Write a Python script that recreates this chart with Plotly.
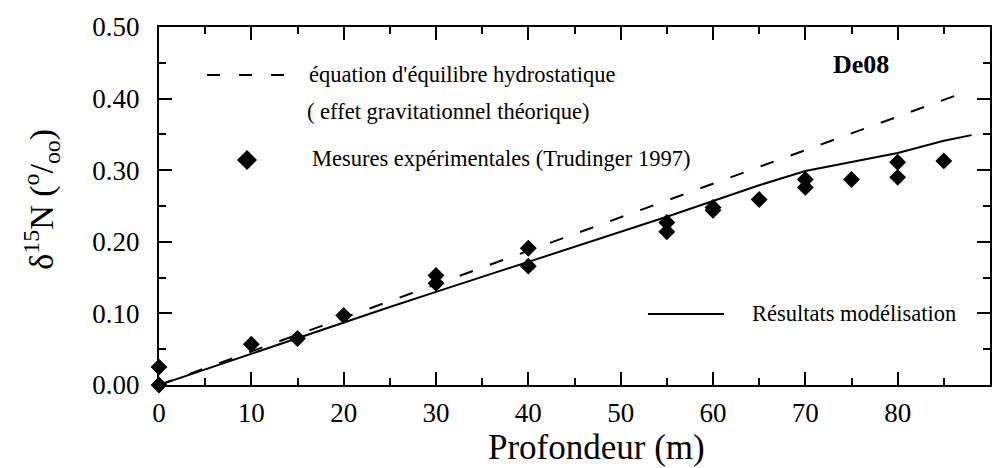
import plotly.graph_objects as go

# Measured firn-air d15N profile (Trudinger 1997), site De08
depth_meas = [0, 0, 10, 15, 20, 30, 30, 40, 40, 55, 55, 60, 60, 65, 70, 70, 75, 80, 80, 85]
d15n_meas = [0.000, 0.025, 0.057, 0.065, 0.097, 0.153, 0.142, 0.191, 0.166, 0.227, 0.214,
             0.248, 0.244, 0.259, 0.287, 0.276, 0.287, 0.311, 0.290, 0.313]

# Modelled profile
depth_model = [0, 5, 10, 15, 20, 25, 30, 35, 40, 45, 50, 55, 60, 65, 70, 75, 80, 85, 88]
d15n_model = [0.000, 0.022, 0.044, 0.065, 0.087, 0.109, 0.130, 0.151, 0.171, 0.192, 0.213,
              0.235, 0.257, 0.279, 0.299, 0.312, 0.324, 0.341, 0.349]

# Hydrostatic equilibrium (theoretical gravitational effect)
depth_hydro = [0, 87.5]
d15n_hydro = [0.0, 0.41]

x_ticks = [0, 10, 20, 30, 40, 50, 60, 70, 80, 90]
y_ticks = [0.0, 0.1, 0.2, 0.3, 0.4, 0.5]
y_tick_text = ["0.00", "0.10", "0.20", "0.30", "0.40", "0.50"]

SERIF = "Liberation Serif"
BLACK = "#000000"

fig = go.Figure()

fig.add_trace(go.Scatter(
    x=depth_hydro, y=d15n_hydro, mode="lines",
    line=dict(color=BLACK, width=2, dash="14px,18px"),
    showlegend=False, cliponaxis=False,
))
fig.add_trace(go.Scatter(
    x=depth_model, y=d15n_model, mode="lines",
    line=dict(color=BLACK, width=2),
    showlegend=False,
))
fig.add_trace(go.Scatter(
    x=depth_meas, y=d15n_meas, mode="markers",
    marker=dict(symbol="diamond", size=13, color=BLACK, line=dict(width=0)),
    showlegend=False, cliponaxis=False,
))

axis_common = dict(
    showline=True, linecolor=BLACK, linewidth=2, mirror="ticks",
    ticks="inside", ticklen=13, tickwidth=1.5, tickcolor=BLACK,
    showgrid=False, zeroline=False,
    tickfont=dict(family=SERIF, size=27, color=BLACK),
)

fig.update_xaxes(
    range=[0, 90], tickvals=x_ticks,
    minor=dict(ticks="inside", ticklen=7, tickwidth=1.5, tickcolor=BLACK, dtick=5, tick0=0),
    ticklabelstandoff=3,
    **axis_common,
)
fig.update_yaxes(
    range=[0, 0.5], tickvals=y_ticks, ticktext=y_tick_text,
    minor=dict(ticks="inside", ticklen=7, tickwidth=1.5, tickcolor=BLACK, dtick=0.05, tick0=0),
    ticklabelstandoff=12,
    **axis_common,
)

# Axis titles
fig.add_annotation(
    text="Profondeur (m)", xref="paper", yref="paper", x=0.526, y=-0.1746,
    xanchor="center", yanchor="middle", showarrow=False,
    font=dict(family=SERIF, size=35, color=BLACK),
)
fig.add_annotation(
    text="δ<sup>15</sup>N (<sup>o</sup>/<sub>oo</sub>)",
    xref="paper", yref="paper", x=-0.141, y=0.52,
    xanchor="center", yanchor="middle", textangle=-90, showarrow=False,
    font=dict(family=SERIF, size=34, color=BLACK),
)

# Legend entries, placed inside the plotting area
legend_font = dict(family=SERIF, size=22.5, color=BLACK)
annotations = [
    dict(text="équation d'équilibre hydrostatique", x=0.178, y=0.866),
    dict(text="( effet gravitationnel théorique)", x=0.1757, y=0.7626),
    dict(text="Mesures expérimentales (Trudinger 1997)", x=0.1817, y=0.634),
    dict(text="Résultats modélisation", x=0.711, y=0.201),
]
for a in annotations:
    fig.add_annotation(xref="paper", yref="paper", xanchor="left", yanchor="middle",
                       showarrow=False, font=legend_font, **a)

fig.add_annotation(text="<b>De08</b>", xref="paper", yref="paper", x=0.845, y=0.894,
                   xanchor="center", yanchor="middle", showarrow=False,
                   font=dict(family=SERIF, size=26, color=BLACK))

# Legend samples
fig.add_shape(type="line", xref="paper", yref="paper", x0=0.0578, x1=0.1516, y0=0.866, y1=0.866,
              line=dict(color=BLACK, width=2, dash="13px,19px"))
fig.add_shape(type="line", xref="paper", yref="paper", x0=0.5884, x1=0.680, y0=0.198, y1=0.198,
              line=dict(color=BLACK, width=2))
fig.add_shape(type="path", xref="paper", yref="paper", xsizemode="pixel", ysizemode="pixel",
              xanchor=0.1059, yanchor=0.6285, path="M0,-10 L10,0 L0,10 L-10,0 Z",
              fillcolor=BLACK, line=dict(color=BLACK, width=0))

fig.update_layout(
    width=1003, height=468,
    margin=dict(l=159, r=13, t=27, b=83),
    paper_bgcolor="white", plot_bgcolor="white",
    font=dict(family=SERIF, color=BLACK),
)

fig.write_html("out.html")
